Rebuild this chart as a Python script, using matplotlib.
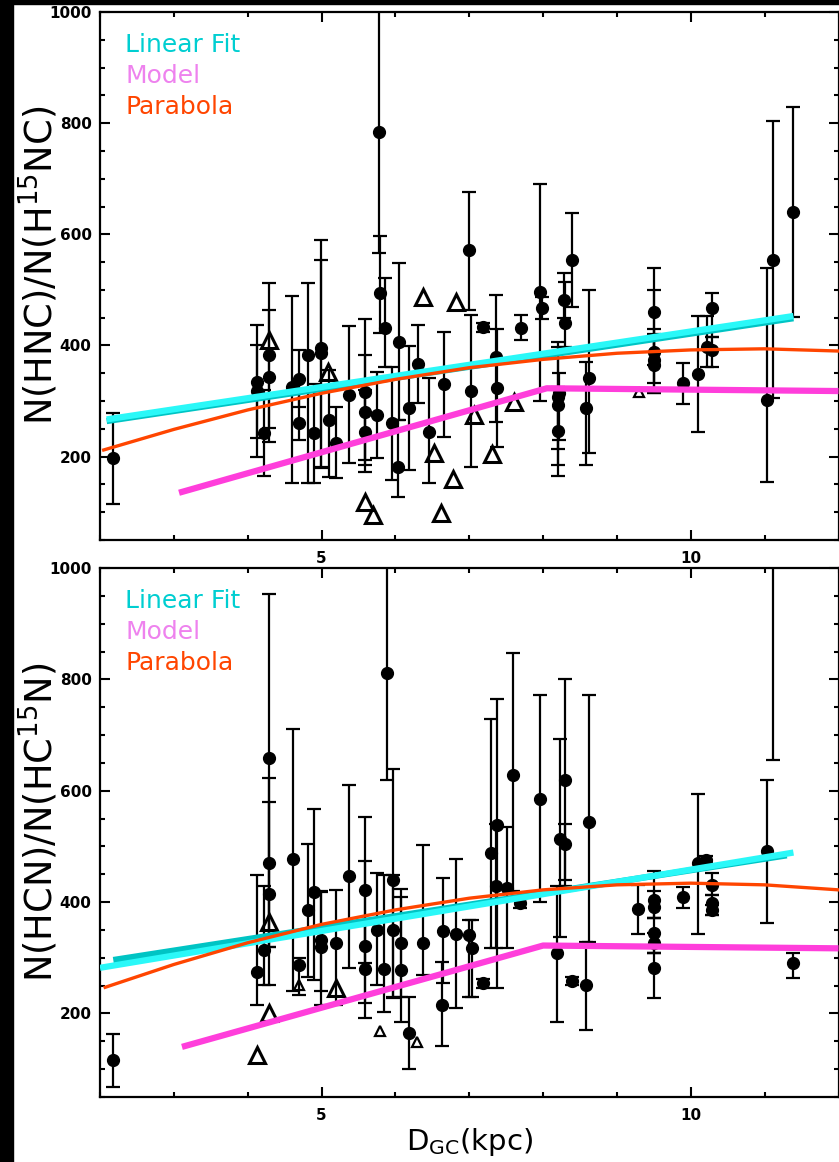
import numpy as np
import matplotlib
matplotlib.use("Agg")
import matplotlib.pyplot as plt
from matplotlib.ticker import MultipleLocator, FixedLocator
from matplotlib.patches import Rectangle

plt.rcParams['font.family'] = ['DejaVu Sans']
plt.rcParams['mathtext.default'] = 'regular'

# ---- top panel: N(HNC)/N(H15NC) ----
hnc_x = [2.18, 4.12, 4.12, 4.22, 4.29, 4.29, 4.60, 4.69, 4.69, 4.81, 4.90, 4.99, 4.99,
         5.10, 5.19, 5.37, 5.59, 5.59, 5.59, 5.75, 5.78, 5.79, 5.86, 5.95, 6.04, 6.05,
         6.19, 6.30, 6.46, 6.66, 6.99, 7.03, 7.19, 7.36, 7.37, 7.70, 7.96, 7.98, 8.20,
         8.20, 8.20, 8.22, 8.28, 8.29, 8.39, 8.62, 8.58, 9.50, 9.50, 9.50, 9.50, 9.90,
         10.10, 10.29, 10.22, 10.29, 11.03, 11.11, 11.39]
hnc_y = [198, 335, 318, 242, 383, 344, 326, 339, 260, 383, 243, 396, 386,
         266, 225, 311, 317, 281, 245, 275, 784, 494, 431, 260, 182, 407,
         287, 367, 245, 330, 571, 318, 433, 380, 324, 431, 497, 467, 308,
         293, 247, 314, 482, 440, 554, 341, 287, 461, 389, 374, 365, 332,
         349, 467, 398, 392, 302, 554, 640]
hnc_lo = [115, 233, 199, 165, 251, 227, 152, 290, 230, 152, 152, 179, 182,
          164, 161, 188, 194, 185, 173, 197, 566, 422, 362, 158, 128, 266,
          176, 296, 152, 236, 464, 182, 425, 263, 218, 409, 300, 448, 213,
          185, 165, 230, 449, 398, 469, 206, 185, 365, 332, 314, 314, 295,
          244, 416, 362, 362, 155, 305, 451]
hnc_hi = [278, 437, 400, 320, 513, 463, 489, 392, 340, 512, 330, 590, 554,
          355, 290, 435, 447, 383, 320, 353, 1100, 597, 521, 362, 266, 548,
          399, 437, 341, 425, 677, 455, 441, 491, 429, 454, 691, 487, 407,
          398, 326, 350, 530, 515, 638, 499, 371, 539, 499, 430, 420, 368,
          453, 495, 453, 416, 540, 803, 829]
hnc_tri_x = [4.29, 5.09, 5.59, 5.69, 6.38, 6.82, 6.52, 6.78, 6.62, 7.07, 7.31, 7.60]
hnc_tri_y = [410, 353, 119, 95, 488, 479, 206, 159, 99, 275, 205, 299]
hnc_stri_x = [9.30]
hnc_stri_y = [317]

hnc_fit_x = [2.09, 11.39]
hnc_fit_y = [267, 453]
hnc_fit2_y = [264, 449]
hnc_model_x = [3.07, 8.05, 12.0]
hnc_model_y = [135, 323, 318]
hnc_par_x = [2.05, 3, 4, 5, 6, 7, 8, 9, 10, 11, 12]
hnc_par_y = [212, 249, 284, 314, 339, 360, 375, 386, 392, 394, 390]

# ---- bottom panel: N(HCN)/N(HC15N) ----
hcn_x = [2.18, 4.12, 4.22, 4.29, 4.29, 4.29, 4.62, 4.69, 4.81, 4.90, 4.99, 4.99,
         5.19, 5.37, 5.59, 5.59, 5.59, 5.75, 5.85, 5.89, 5.97, 5.97, 6.07, 6.07,
         6.19, 6.37, 6.65, 6.63, 6.82, 6.99, 7.04, 7.19, 7.30, 7.37, 7.36, 7.59,
         7.51, 7.69, 7.96, 8.23, 8.29, 8.29, 8.19, 8.39, 8.58, 8.62, 9.29, 9.50,
         9.50, 9.50, 9.50, 9.50, 9.89, 10.10, 10.20, 10.29, 10.29, 10.29, 11.03,
         11.11, 11.39]
hcn_y = [116, 275, 314, 658, 471, 414, 477, 287, 385, 418, 320, 332,
         326, 446, 422, 321, 279, 350, 279, 811, 440, 350, 326, 278,
         165, 327, 349, 216, 343, 341, 317, 254, 488, 538, 429, 628,
         426, 398, 586, 514, 619, 504, 308, 259, 251, 544, 388, 404,
         392, 345, 326, 281, 410, 471, 476, 431, 398, 386, 492,
         1050, 290]
hcn_lo = [68, 215, 251, 320, 320, 251, 241, 233, 266, 260, 215, 240,
          215, 281, 290, 218, 191, 251, 203, 620, 227, 230, 185, 230,
          101, 269, 254, 141, 209, 230, 230, 246, 317, 245, 317, 420,
          318, 390, 401, 338, 440, 429, 185, 252, 171, 329, 342, 371,
          371, 308, 308, 228, 389, 342, 470, 413, 377, 377, 362,
          655, 263]
hcn_hi = [163, 449, 429, 953, 622, 580, 711, 300, 504, 568, 419, 420,
          422, 610, 552, 473, 360, 452, 449, 1100, 639, 449, 423, 410,
          229, 502, 443, 293, 477, 368, 368, 262, 729, 765, 540, 847,
          535, 406, 772, 693, 800, 540, 429, 266, 329, 772, 430, 455,
          420, 371, 345, 308, 428, 595, 482, 452, 413, 395, 620,
          1450, 308]
hcn_tri_x = [4.12, 4.29, 4.29, 5.20]
hcn_tri_y = [125, 200, 365, 245]
hcn_stri_x = [4.69, 5.79, 6.29]
hcn_stri_y = [251, 169, 149]

hcn_fit_x = [2.0, 11.39]
hcn_fit_y = [282, 489]
hcn_fit2_x = [2.18, 11.3]
hcn_fit2_y = [296, 484]
hcn_model_x = [3.11, 8.0, 12.0]
hcn_model_y = [140, 322, 317]
hcn_par_x = [2.07, 3, 4, 5, 6, 7, 8, 9, 10, 11, 12]
hcn_par_y = [247, 288, 327, 360, 386, 407, 422, 431, 434, 431, 422]

W, H = 839, 1162
fig = plt.figure(figsize=(W / 100, H / 100), dpi=100)
fig.patch.set_facecolor('white')

left = 100 / W
width = 738.5 / W
ax1 = fig.add_axes([left, 1 - 540 / H, width, 528 / H])
ax2 = fig.add_axes([left, 1 - 1097 / H, width, 529 / H])


def panel(ax, x, y, lo, hi, tx, ty, sx, sy, fits, mx, my, px, py, ylabel):
    x = np.array(x)
    y = np.array(y, dtype=float)
    err = [y - np.array(lo), np.array(hi) - y]
    ax.errorbar(x, y, yerr=err, fmt='o', color='k', ms=8.5, capsize=5,
                elinewidth=1.6, capthick=1.6, zorder=2)
    ax.plot(tx, ty, '^', mfc='none', mec='k', mew=2.2, ms=11, zorder=2)
    ax.plot(sx, sy, '^', mfc='none', mec='k', mew=1.6, ms=7, zorder=2)
    ax.plot(mx, my, color='#FF3EDB', lw=4.5, solid_capstyle='butt', zorder=3)
    for (fx, fy, c) in fits:
        ax.plot(fx, fy, color=c, lw=4.5, solid_capstyle='butt', zorder=4)
    ax.plot(px, py, color='#FF4500', lw=2.4, zorder=5)

    ax.set_xlim(2, 12)
    ax.set_ylim(50, 1000)
    ax.xaxis.set_major_locator(FixedLocator([5, 10]))
    ax.xaxis.set_minor_locator(MultipleLocator(1))
    ax.yaxis.set_major_locator(MultipleLocator(200))
    ax.yaxis.set_minor_locator(MultipleLocator(50))
    ax.tick_params(which='both', direction='in', top=True, right=True,
                   width=1.5, labelsize=11)
    ax.tick_params(which='major', length=7)
    ax.tick_params(which='minor', length=3.5)
    ax.tick_params(axis='x', pad=8)
    ax.tick_params(axis='y', pad=6)
    for lab in ax.get_xticklabels() + ax.get_yticklabels():
        lab.set_fontweight('bold')
    for s in ax.spines.values():
        s.set_linewidth(1.6)
    ax.set_ylabel(ylabel, fontsize=26.5)
    ax.yaxis.set_label_coords(-0.053, 0.52)

    ax.text(0.034, 0.924, 'Linear Fit', color='#00CED1', fontsize=18,
            transform=ax.transAxes, va='baseline')
    ax.text(0.034, 0.866, 'Model', color='#EE82EE', fontsize=18,
            transform=ax.transAxes, va='baseline')
    ax.text(0.034, 0.807, 'Parabola', color='#FF4500', fontsize=18,
            transform=ax.transAxes, va='baseline')


panel(ax1, hnc_x, hnc_y, hnc_lo, hnc_hi, hnc_tri_x, hnc_tri_y, hnc_stri_x, hnc_stri_y,
      [(hnc_fit_x, hnc_fit2_y, '#00C4C4'), (hnc_fit_x, hnc_fit_y, '#2AF8F8')],
      hnc_model_x, hnc_model_y, hnc_par_x, hnc_par_y, r'N(HNC)/N(H$^{15}$NC)')
panel(ax2, hcn_x, hcn_y, hcn_lo, hcn_hi, hcn_tri_x, hcn_tri_y, hcn_stri_x, hcn_stri_y,
      [(hcn_fit2_x, hcn_fit2_y, '#00C4C4'), (hcn_fit_x, hcn_fit_y, '#2AF8F8')],
      hcn_model_x, hcn_model_y, hcn_par_x, hcn_par_y, r'N(HCN)/N(HC$^{15}$N)')

ax2.set_xlabel(r'D$_{GC}$(kpc)', fontsize=21)
ax2.xaxis.set_label_coords(0.5, -0.055)

# black borders of the scanned page
fig.add_artist(Rectangle((0, 0), 13 / W, 1, transform=fig.transFigure,
                         color='k', zorder=10))
fig.add_artist(Rectangle((0, 1 - 4 / H), 1, 4 / H, transform=fig.transFigure,
                         color='k', zorder=10))

fig.savefig('out.png', dpi=100)
